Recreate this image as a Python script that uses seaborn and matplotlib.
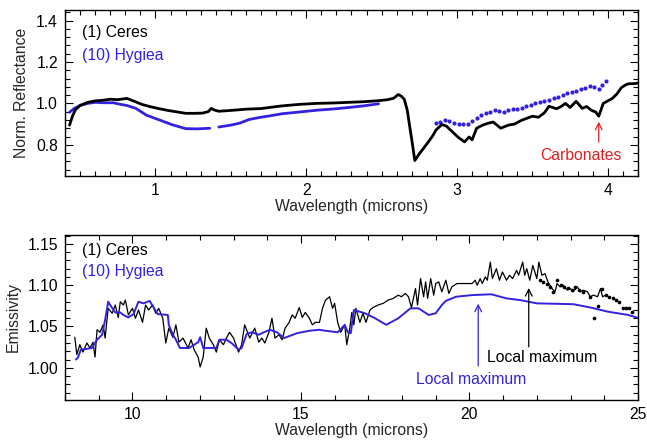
import numpy as np
import pandas as pd
import matplotlib
matplotlib.use("Agg")
import matplotlib.pyplot as plt
from matplotlib.ticker import MultipleLocator, FormatStrFormatter
import seaborn as sns

# ---------------- Reflectance spectra (0.4 - 4.2 microns) ----------------
ceres_vis_wl = [0.43, 0.45, 0.47, 0.50, 0.55, 0.60, 0.65, 0.70, 0.75, 0.81, 0.86, 0.91,
                0.96, 1.02, 1.09, 1.15, 1.20, 1.26, 1.31, 1.35, 1.37, 1.39, 1.42, 1.50,
                1.60, 1.70, 1.84, 1.95, 2.07, 2.18, 2.28, 2.38, 2.48, 2.54, 2.58, 2.61,
                2.63, 2.65, 2.67, 2.69, 2.70, 2.72, 2.75, 2.78, 2.81, 2.84, 2.86, 2.90,
                2.93, 2.97, 3.01, 3.05, 3.08, 3.10, 3.13, 3.17, 3.21, 3.24, 3.29, 3.34,
                3.38, 3.43, 3.50, 3.54, 3.58, 3.61, 3.66, 3.69, 3.72, 3.75, 3.79, 3.83,
                3.86, 3.89, 3.92, 3.94, 3.97, 4.00, 4.03, 4.06, 4.09, 4.12, 4.14, 4.17, 4.20]
ceres_vis_refl = [0.895, 0.940, 0.970, 0.990, 1.005, 1.012, 1.015, 1.020, 1.018, 1.024, 1.010, 0.995,
                  0.985, 0.975, 0.965, 0.958, 0.952, 0.952, 0.953, 0.960, 0.976, 0.968, 0.962, 0.966,
                  0.972, 0.975, 0.988, 0.995, 1.000, 1.002, 1.005, 1.008, 1.013, 1.018, 1.025, 1.043,
                  1.035, 1.020, 0.967, 0.870, 0.824, 0.724, 0.757, 0.785, 0.814, 0.845, 0.871, 0.898,
                  0.890, 0.862, 0.835, 0.814, 0.838, 0.824, 0.880, 0.895, 0.905, 0.910, 0.880, 0.895,
                  0.900, 0.919, 0.938, 0.933, 0.955, 0.986, 0.974, 0.985, 1.000, 0.980, 1.010, 0.976,
                  0.985, 0.967, 0.958, 0.938, 1.000, 1.012, 1.024, 1.045, 1.076, 1.090, 1.095, 1.095, 1.098]

hygiea_vis_wl_a = [0.43, 0.46, 0.50, 0.55, 0.60, 0.66, 0.72, 0.77, 0.81, 0.87, 0.94, 1.03,
                   1.11, 1.20, 1.28, 1.36]
hygiea_vis_refl_a = [0.957, 0.975, 0.990, 1.000, 1.005, 1.003, 1.003, 0.995, 0.990, 0.976, 0.943, 0.919,
                     0.897, 0.878, 0.877, 0.880]
hygiea_vis_wl_b = [1.42, 1.50, 1.56, 1.62, 1.69, 1.76, 1.84, 1.95, 2.07, 2.18, 2.28, 2.38, 2.45, 2.48]
hygiea_vis_refl_b = [0.886, 0.895, 0.905, 0.922, 0.932, 0.940, 0.950, 0.958, 0.967, 0.973, 0.980, 0.988,
                     0.995, 0.998]
hygiea_ir_wl = [2.86, 2.89, 2.92, 2.95, 2.98, 3.01, 3.04, 3.07, 3.10, 3.13, 3.16, 3.19, 3.22,
                3.25, 3.28, 3.31, 3.34, 3.37, 3.40, 3.43, 3.46, 3.49, 3.52, 3.55, 3.58, 3.61,
                3.64, 3.67, 3.70, 3.73, 3.76, 3.79, 3.82, 3.85, 3.88, 3.91, 3.94, 3.96, 3.99]
hygiea_ir_refl = [0.905, 0.910, 0.918, 0.915, 0.905, 0.900, 0.900, 0.902, 0.915, 0.930, 0.945, 0.952, 0.960,
                  0.967, 0.962, 0.960, 0.968, 0.972, 0.975, 0.980, 0.985, 0.992, 1.000, 1.005, 1.012, 1.018,
                  1.025, 1.030, 1.040, 1.050, 1.057, 1.062, 1.070, 1.076, 1.085, 1.080, 1.070, 1.090, 1.110]

# ---------------- Emissivity spectra (8 - 25 microns) ----------------
ceres_em_wl = [8.29, 8.35, 8.44, 8.53, 8.65, 8.74, 8.83, 8.89, 8.95, 9.04, 9.13, 9.19, 9.28,
               9.40, 9.49, 9.58, 9.64, 9.73, 9.79, 9.88, 10.00, 10.09, 10.18, 10.30, 10.39,
               10.48, 10.60, 10.69, 10.78, 10.90, 10.99, 11.08, 11.20, 11.29, 11.38, 11.50,
               11.65, 11.74, 11.83, 11.95, 12.01, 12.10, 12.19, 12.28, 12.40, 12.49, 12.58,
               12.70, 12.79, 12.88, 13.00, 13.15, 13.24, 13.33, 13.48, 13.63, 13.75, 13.84,
               13.93, 14.05, 14.14, 14.23, 14.35, 14.44, 14.53, 14.65, 14.74, 14.83, 14.95,
               15.04, 15.13, 15.25, 15.34, 15.43, 15.55, 15.64, 15.73, 15.85, 15.94, 16.00,
               16.09, 16.18, 16.30, 16.36, 16.45, 16.51, 16.57, 16.63, 16.75, 16.84, 16.93,
               17.05, 17.14, 17.29, 17.44, 17.59, 17.74, 17.89, 17.98, 18.10, 18.19, 18.28,
               18.40, 18.46, 18.55, 18.64, 18.70, 18.76, 18.85, 18.94, 19.00, 19.09, 19.18,
               19.30, 19.39, 19.48, 19.63, 20.08, 20.17, 20.23, 20.32, 20.38, 20.47, 20.53,
               20.62, 20.68, 20.80, 20.89, 20.98, 21.10, 21.19, 21.28, 21.40, 21.46, 21.58,
               21.64, 21.70, 21.79, 21.88, 22.00, 22.06, 22.15, 22.24, 22.33, 22.45, 22.54,
               22.60, 22.69, 22.78, 22.90, 22.99, 23.08, 23.20, 23.29, 23.38, 23.50, 23.59,
               23.68, 23.80, 23.89, 23.95, 24.04]
ceres_em = [1.037, 1.016, 1.028, 1.019, 1.030, 1.024, 1.031, 1.013, 1.046, 1.043, 1.052, 1.036, 1.072,
            1.066, 1.076, 1.061, 1.080, 1.076, 1.082, 1.064, 1.072, 1.060, 1.070, 1.055, 1.076,
            1.070, 1.076, 1.066, 1.072, 1.060, 1.030, 1.048, 1.037, 1.052, 1.031, 1.036,
            1.024, 1.034, 1.022, 1.013, 1.001, 1.013, 1.048, 1.036, 1.028, 1.019, 1.034,
            1.028, 1.036, 1.043, 1.036, 1.019, 1.028, 1.052, 1.036, 1.048, 1.031, 1.036,
            1.030, 1.043, 1.060, 1.036, 1.040, 1.034, 1.048, 1.055, 1.064, 1.060, 1.073,
            1.061, 1.067, 1.060, 1.052, 1.055, 1.055, 1.072, 1.082, 1.086, 1.072, 1.078,
            1.055, 1.043, 1.052, 1.028, 1.048, 1.067, 1.052, 1.072, 1.055, 1.066, 1.055,
            1.070, 1.073, 1.076, 1.078, 1.082, 1.084, 1.088, 1.086, 1.090, 1.086, 1.073,
            1.096, 1.076, 1.108, 1.086, 1.104, 1.084, 1.108, 1.088, 1.102, 1.104, 1.092,
            1.106, 1.090, 1.098, 1.102, 1.102, 1.106, 1.100, 1.108, 1.102, 1.110, 1.106,
            1.128, 1.108, 1.120, 1.106, 1.116, 1.106, 1.112, 1.108, 1.118, 1.112, 1.128,
            1.112, 1.120, 1.106, 1.124, 1.108, 1.128, 1.112, 1.114, 1.104, 1.096, 1.092,
            1.102, 1.098, 1.100, 1.094, 1.096, 1.092, 1.098, 1.092, 1.094, 1.092, 1.086,
            1.088, 1.086, 1.096, 1.086, 1.088]

ceres_pts_wl = [22.09, 22.18, 22.30, 22.39, 22.48, 22.60, 22.72, 22.81, 22.93, 23.05, 23.14,
                23.26, 23.38, 23.59, 23.71, 23.80, 23.92, 24.04, 24.13, 24.25, 24.34, 24.43,
                24.55, 24.64, 24.73, 24.82]
ceres_pts_em = [1.106, 1.104, 1.102, 1.098, 1.092, 1.106, 1.100, 1.098, 1.096, 1.094, 1.098,
                1.094, 1.092, 1.086, 1.060, 1.075, 1.095, 1.088, 1.086, 1.084, 1.082, 1.080,
                1.072, 1.072, 1.072, 1.067]

hygiea_em_wl = [8.32, 8.38, 8.47, 8.65, 8.80, 8.95, 9.10, 9.19, 9.28, 9.34, 9.49, 9.64, 9.73,
                9.88, 10.03, 10.18, 10.33, 10.51, 10.63, 10.75, 11.05, 11.08, 11.20, 11.29,
                11.41, 11.68, 11.95, 12.01, 12.10, 12.49, 12.58, 12.79, 12.94, 13.15, 13.24,
                13.39, 13.54, 13.75, 13.90, 14.08, 14.29, 14.50, 14.89, 15.28, 15.55, 15.70,
                16.09, 16.30, 16.39, 16.48, 16.57, 16.90, 17.20, 17.53, 17.89, 18.25, 18.49,
                18.79, 19.00, 19.18, 19.30, 19.60, 20.08, 20.65, 21.10, 21.50, 22.00, 23.08,
                23.59, 24.10, 24.71, 25.04]
hygiea_em = [1.010, 1.012, 1.022, 1.023, 1.024, 1.034, 1.040, 1.058, 1.080, 1.076, 1.067, 1.067, 1.064,
             1.061, 1.065, 1.080, 1.078, 1.081, 1.073, 1.065, 1.064, 1.052, 1.040, 1.034,
             1.024, 1.024, 1.031, 1.037, 1.024, 1.024, 1.034, 1.034, 1.030, 1.022, 1.024,
             1.041, 1.043, 1.040, 1.043, 1.046, 1.043, 1.036, 1.042, 1.045, 1.046, 1.045,
             1.043, 1.052, 1.043, 1.042, 1.070, 1.066, 1.060, 1.052, 1.060, 1.072, 1.072,
             1.064, 1.066, 1.076, 1.081, 1.086, 1.088, 1.089, 1.084, 1.082, 1.078, 1.077,
             1.073, 1.068, 1.064, 1.060]

BLUE = "#3322dd"
RED = "#dd2020"
FS = 11.3

sns.set_style("ticks")
plt.rcParams["font.family"] = ["Liberation Sans", "DejaVu Sans"]
plt.rcParams["font.size"] = FS
plt.rcParams["axes.linewidth"] = 1.0

fig = plt.figure(figsize=(6.47, 4.43), dpi=100)
ax1 = fig.add_axes([0.1005, 0.603, 0.8855, 0.374])
ax2 = fig.add_axes([0.1005, 0.097, 0.8855, 0.373])

# ---- top panel: reflectance ----
ceres_vis = pd.DataFrame({"wl": ceres_vis_wl, "refl": ceres_vis_refl})
hyg_vis = pd.concat([
    pd.DataFrame({"wl": hygiea_vis_wl_a, "refl": hygiea_vis_refl_a, "seg": 0}),
    pd.DataFrame({"wl": hygiea_vis_wl_b, "refl": hygiea_vis_refl_b, "seg": 1}),
])
hyg_ir = pd.DataFrame({"wl": hygiea_ir_wl, "refl": hygiea_ir_refl})

sns.lineplot(data=hyg_vis, x="wl", y="refl", units="seg", estimator=None, sort=False,
             color=BLUE, lw=2.0, ax=ax1)
sns.scatterplot(data=hyg_ir, x="wl", y="refl", color=BLUE, s=9, linewidth=0, ax=ax1)
sns.lineplot(data=ceres_vis, x="wl", y="refl", estimator=None, sort=False,
             color="black", lw=2.0, ax=ax1)

ax1.set_xlim(0.4, 4.2)
ax1.set_ylim(0.65, 1.45)
ax1.xaxis.set_major_locator(MultipleLocator(1))
ax1.xaxis.set_minor_locator(MultipleLocator(0.1))
ax1.yaxis.set_major_locator(MultipleLocator(0.2))
ax1.yaxis.set_minor_locator(MultipleLocator(0.04))
ax1.yaxis.set_major_formatter(FormatStrFormatter("%.1f"))
ax1.set_xlabel("Wavelength (microns)", fontsize=FS, labelpad=1)
ax1.set_ylabel("Norm. Reflectance", fontsize=FS, labelpad=5)

ax1.text(0.03, 0.867, "(1) Ceres", transform=ax1.transAxes, color="black",
         fontsize=FS, va="center", ha="left")
ax1.text(0.03, 0.729, "(10) Hygiea", transform=ax1.transAxes, color=BLUE,
         fontsize=FS, va="center", ha="left")
ax1.annotate("", xy=(3.94, 0.925), xytext=(3.94, 0.80),
             arrowprops=dict(arrowstyle="->", color=RED, lw=0.9, mutation_scale=12))
ax1.text(3.82, 0.748, "Carbonates", color=RED, fontsize=FS, ha="center", va="center")

# ---- bottom panel: emissivity ----
ceres_em_df = pd.DataFrame({"wl": ceres_em_wl, "em": ceres_em})
ceres_pts_df = pd.DataFrame({"wl": ceres_pts_wl, "em": ceres_pts_em})
hyg_em_df = pd.DataFrame({"wl": hygiea_em_wl, "em": hygiea_em})

sns.lineplot(data=ceres_em_df, x="wl", y="em", estimator=None, sort=False,
             color="black", lw=0.9, ax=ax2)
sns.scatterplot(data=ceres_pts_df, x="wl", y="em", color="black", s=7, linewidth=0, ax=ax2)
sns.lineplot(data=hyg_em_df, x="wl", y="em", estimator=None, sort=False,
             color=BLUE, lw=1.4, ax=ax2)

ax2.set_xlim(8, 25)
ax2.set_ylim(0.961, 1.161)
ax2.xaxis.set_major_locator(MultipleLocator(5))
ax2.xaxis.set_minor_locator(MultipleLocator(1))
ax2.yaxis.set_major_locator(MultipleLocator(0.05))
ax2.yaxis.set_minor_locator(MultipleLocator(0.01))
ax2.yaxis.set_major_formatter(FormatStrFormatter("%.2f"))
ax2.set_xlabel("Wavelength (microns)", fontsize=FS, labelpad=1)
ax2.set_ylabel("Emissivity", fontsize=FS, labelpad=5)

ax2.text(0.03, 0.903, "(1) Ceres", transform=ax2.transAxes, color="black",
         fontsize=FS, va="center", ha="left")
ax2.text(0.03, 0.776, "(10) Hygiea", transform=ax2.transAxes, color=BLUE,
         fontsize=FS, va="center", ha="left")
ax2.annotate("", xy=(20.26, 1.081), xytext=(20.26, 0.999),
             arrowprops=dict(arrowstyle="->", color=BLUE, lw=0.9, mutation_scale=12))
ax2.text(20.05, 0.986, "Local maximum", color=BLUE, fontsize=FS, ha="center", va="center")
ax2.annotate("", xy=(21.76, 1.100), xytext=(21.76, 1.022),
             arrowprops=dict(arrowstyle="->", color="black", lw=0.9, mutation_scale=12))
ax2.text(22.15, 1.012, "Local maximum", color="black", fontsize=FS, ha="center", va="center")

for ax in (ax1, ax2):
    ax.tick_params(which="both", direction="in", top=True, right=True, colors="black",
                   labelsize=FS, width=0.8)
    ax.tick_params(which="major", length=6, pad=5)
    ax.tick_params(which="minor", length=3.5)
    for s in ax.spines.values():
        s.set_color("black")
        s.set_linewidth(1.0)

fig.savefig("out.png", dpi=100)
